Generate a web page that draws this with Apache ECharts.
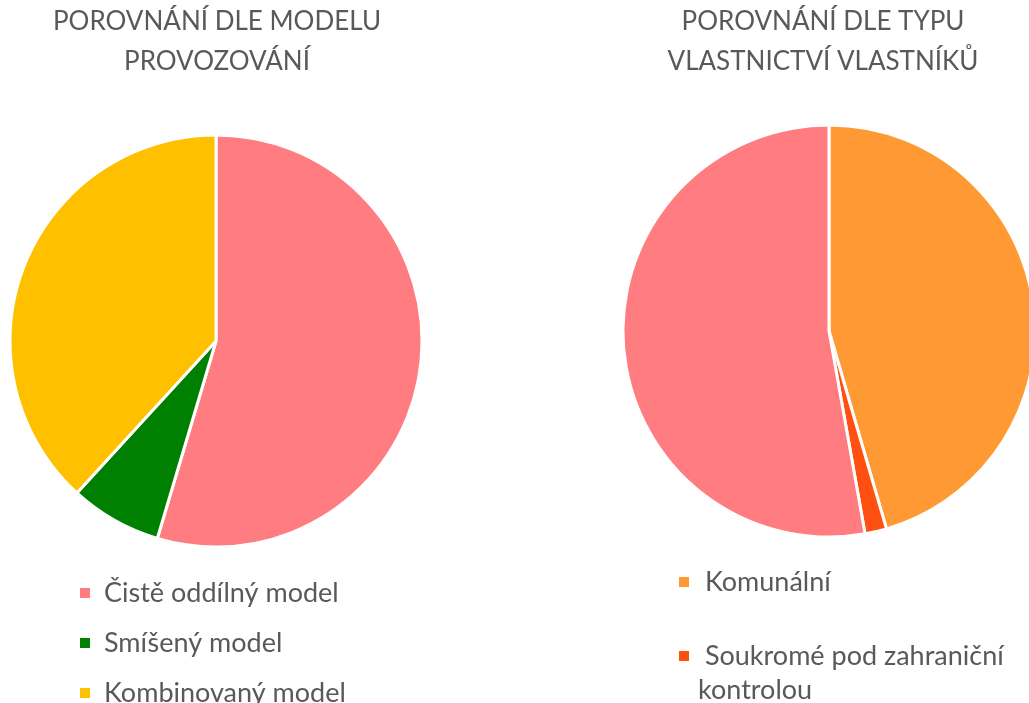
<!DOCTYPE html>
<html>
<head>
<meta charset="utf-8">
<script src="https://cdn.jsdelivr.net/npm/echarts@6/dist/echarts.min.js"></script>
<style>
  html, body { margin: 0; padding: 0; background: #fff; }
  #chart { width: 1029px; height: 703px; }
</style>
</head>
<body>
<div id="chart"></div>
<script>
  // levý graf - model provozování (podíly v %)
  var modelNames = ['Čistě oddílný model', 'Smíšený model', 'Kombinovaný model'];
  var modelValues = [54.6, 7.2, 38.2];
  var modelColors = ['#FF7C80', '#008000', '#FFC000'];

  // pravý graf - typ vlastnictví (třetí položka legendy je mimo obrázek)
  var ownerNames = ['Komunální', 'Soukromé pod zahraniční kontrolou', 'Soukromé tuzemské'];
  var ownerValues = [45.5, 1.7, 52.8];
  var ownerColors = ['#FF9933', '#FF5011', '#FF7C80'];

  var gray = '#595959';
  var font = 'Lato';

  function pieData(names, values, colors) {
    return names.map(function (n, i) {
      return { name: n, value: values[i], itemStyle: { color: colors[i] } };
    });
  }

  var titleStyle = { color: gray, fontFamily: font, fontWeight: 'normal', fontSize: 26, lineHeight: 40 };
  var legendText = { color: gray, fontFamily: font, fontSize: 27, lineHeight: 34 };

  var chart = echarts.init(document.getElementById('chart'));
  chart.setOption({
    animation: false,
    title: [
      { text: 'POROVNÁNÍ DLE MODELU\nPROVOZOVÁNÍ', left: 212, top: -3, textAlign: 'center', textStyle: titleStyle },
      { text: 'POROVNÁNÍ DLE TYPU\nVLASTNICTVÍ VLASTNÍKŮ', left: 818, top: -3, textAlign: 'center', textStyle: titleStyle }
    ],
    legend: [
      {
        data: modelNames,
        orient: 'vertical',
        left: 73, top: 571, height: 200,
        icon: 'rect', itemWidth: 12, itemHeight: 12, itemGap: 16,
        textStyle: Object.assign({ padding: [0, 0, 0, 8] }, legendText)
      },
      {
        data: ['Komunální'],
        orient: 'vertical',
        left: 672, top: 560,
        icon: 'rect', itemWidth: 12, itemHeight: 12,
        formatter: function (n) { return ' ' + n; },
        textStyle: Object.assign({ padding: [0, 0, 0, 3] }, legendText)
      },
      {
        data: ['Soukromé pod zahraniční kontrolou'],
        orient: 'vertical',
        left: 672, top: 600, height: 200,
        icon: 'rect', itemWidth: 12, itemHeight: 12,
        formatter: function () { return '\n Soukromé pod zahraniční\nkontrolou'; },
        textStyle: Object.assign({ padding: [0, 0, 0, 3] }, legendText)
      }
    ],
    series: [
      {
        type: 'pie',
        center: [216, 341],
        radius: 206,
        startAngle: 90,
        label: { show: false },
        labelLine: { show: false },
        itemStyle: { borderColor: '#fff', borderWidth: 3 },
        data: pieData(modelNames, modelValues, modelColors)
      },
      {
        type: 'pie',
        center: [829, 331],
        radius: 206,
        startAngle: 90,
        label: { show: false },
        labelLine: { show: false },
        itemStyle: { borderColor: '#fff', borderWidth: 3 },
        data: pieData(ownerNames, ownerValues, ownerColors)
      }
    ]
  });
</script>
</body>
</html>
